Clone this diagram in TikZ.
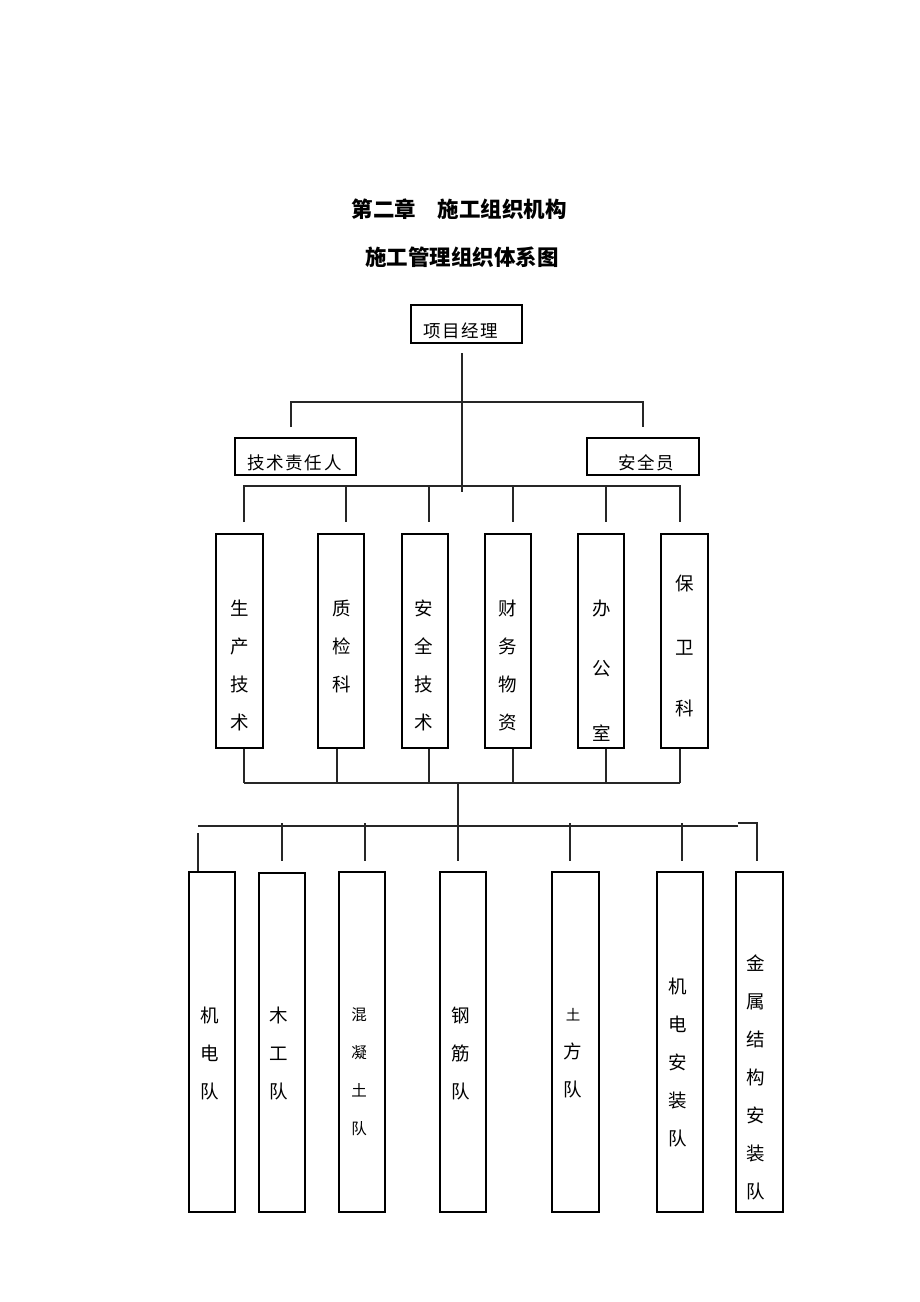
\documentclass[tikz,border=0pt]{standalone}
\usepackage{fontspec}
\newfontfamily\cjk{Noto Sans CJK SC}
\begin{document}
\begin{tikzpicture}[x=1pt,y=-1pt,
  box/.style={draw=black, line width=1.2pt, inner sep=0pt},
  conn/.style={draw=black!85, line width=1.2pt},
  lab/.style={font=\cjk\fontsize{18.5}{38}\selectfont, align=center, inner sep=0pt},
  smlab/.style={font=\cjk\fontsize{15.5}{38}\selectfont, align=center, inner sep=0pt},
  hlab/.style={font=\cjk\fontsize{17.5}{20}\selectfont\addfontfeature{LetterSpace=10}, inner sep=0pt, anchor=west},
  ttl/.style={font=\cjk\bfseries\fontsize{21.5}{24}\selectfont, inner sep=0pt}]
\useasboundingbox[fill=white] (0,0) rectangle (920,1302);

% titles
\node[ttl] (t1) at (459,209) {第二章　施工组织机构};
\node[ttl] (t2) at (462,257) {施工管理组织体系图};

% top level
\node[box, minimum width=111pt, minimum height=38pt] (pm) at (466.5,324) {};
\node[hlab] (pmt) at (423,331) {项目经理};
\node[box, minimum width=121pt, minimum height=37pt] (tr) at (295.5,456.5) {};
\node[hlab] (trt) at (247,463) {技术责任人};
\node[box, minimum width=112pt, minimum height=37pt] (aq) at (643,456.5) {};
\node[hlab] (aqt) at (618,463) {安全员};

% departments
\node[box, minimum width=47pt, minimum height=214pt] (d1) at (239.5,641) {};
\node[box, minimum width=46pt, minimum height=214pt] (d2) at (341,641) {};
\node[box, minimum width=46pt, minimum height=214pt] (d3) at (425,641) {};
\node[box, minimum width=46pt, minimum height=214pt] (d4) at (508,641) {};
\node[box, minimum width=46pt, minimum height=214pt] (d5) at (601,641) {};
\node[box, minimum width=47pt, minimum height=214pt] (d6) at (684.5,641) {};
\node[lab] (d1t) at (240,665.5) {生\\产\\技\\术};
\node[lab] (d2t) at (342,646) {质\\检\\科};
\node[lab] (d3t) at (424,665.5) {安\\全\\技\\术};
\node[lab] (d4t) at (508,665.5) {财\\务\\物\\资};
\node[lab] (d5t) at (602,670.5) {办\\[22pt]公\\[27pt]室};
\node[lab] (d6t) at (685,645.5) {保\\[26pt]卫\\[23pt]科};

% teams
\node[box, minimum width=46pt, minimum height=340pt] (e1) at (212,1042) {};
\node[box, minimum width=46pt, minimum height=339pt] (e2) at (282,1042.5) {};
\node[box, minimum width=46pt, minimum height=340pt] (e3) at (362,1042) {};
\node[box, minimum width=46pt, minimum height=340pt] (e4) at (463,1042) {};
\node[box, minimum width=47pt, minimum height=340pt] (e5) at (575.5,1042) {};
\node[box, minimum width=46pt, minimum height=340pt] (e6) at (680,1042) {};
\node[box, minimum width=47pt, minimum height=340pt] (e7) at (759.5,1042) {};
\node[lab] (e1t) at (210,1053.5) {机\\电\\队};
\node[lab] (e2t) at (279,1053.5) {木\\工\\队};
\node[smlab] (e3t) at (359,1072) {混\\凝\\土\\队};
\node[lab] (e4t) at (461,1053.5) {钢\\筋\\队};
\node[lab] (e5t) at (573,1053.5) {{\fontsize{14.5}{38}\selectfont 土}\\方\\队};
\node[lab] (e6t) at (678,1062) {机\\电\\安\\装\\队};
\node[lab] (e7t) at (756,1077) {金\\属\\结\\构\\安\\装\\队};

% connector coordinates
\coordinate (m0) at (462,353);
\coordinate (m1) at (462,492);
\coordinate (a1) at (291,402);  \coordinate (a1d) at (291,427);
\coordinate (a2) at (643,402);  \coordinate (a2d) at (643,427);
\coordinate (k1) at (244,486);  \coordinate (k1d) at (244,522);
\coordinate (k2) at (346,486);  \coordinate (k2d) at (346,522);
\coordinate (k3) at (429,486);  \coordinate (k3d) at (429,522);
\coordinate (k4) at (513,486);  \coordinate (k4d) at (513,522);
\coordinate (k5) at (606,486);  \coordinate (k5d) at (606,522);
\coordinate (k6) at (680,486);  \coordinate (k6d) at (680,522);
\coordinate (c1) at (244,783);
\coordinate (c2) at (337,783);
\coordinate (c3) at (429,783);
\coordinate (c4) at (513,783);
\coordinate (c5) at (606,783);
\coordinate (c6) at (680,783);
\coordinate (c0) at (458,783);
\coordinate (g0) at (458,861);
\coordinate (g1) at (198,826);
\coordinate (g8) at (738,826);
\coordinate (f1) at (198,833);
\coordinate (f2) at (282,823);  \coordinate (f2d) at (282,861);
\coordinate (f3) at (365,823);  \coordinate (f3d) at (365,861);
\coordinate (f5) at (570,823);  \coordinate (f5d) at (570,861);
\coordinate (f6) at (682,823);  \coordinate (f6d) at (682,861);
\coordinate (f7) at (738,823);  \coordinate (f7c) at (757,823);  \coordinate (f7d) at (757,861);

% connectors
\draw[conn] (m0) -- (m1);
\draw[conn] (a1d) -- (a1) -- (a2) -- (a2d);
\draw[conn] (k1d) -- (k1) -- (k6) -- (k6d);
\draw[conn] (k2) -- (k2d);
\draw[conn] (k3) -- (k3d);
\draw[conn] (k4) -- (k4d);
\draw[conn] (k5) -- (k5d);
\draw[conn] (d1.south -| c1) -- (c1);
\draw[conn] (d2.south -| c2) -- (c2);
\draw[conn] (d3.south -| c3) -- (c3);
\draw[conn] (d4.south -| c4) -- (c4);
\draw[conn] (d5.south -| c5) -- (c5);
\draw[conn] (d6.south -| c6) -- (c6);
\draw[conn] (c1) -- (c6);
\draw[conn] (c0) -- (g0);
\draw[conn] (g1) -- (g8);
\draw[conn] (f1) -- (e1.north -| f1);
\draw[conn] (f2) -- (f2d);
\draw[conn] (f3) -- (f3d);
\draw[conn] (f5) -- (f5d);
\draw[conn] (f6) -- (f6d);
\draw[conn] (f7) -- (f7c) -- (f7d);
\end{tikzpicture}
\end{document}
